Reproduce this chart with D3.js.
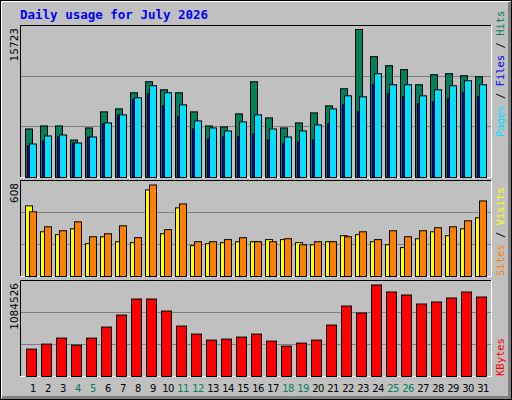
<!DOCTYPE html>
<html><head><meta charset="utf-8">
<script src="https://cdn.jsdelivr.net/npm/d3@7"></script>
<style>body{margin:0;background:#fff}</style>
</head><body><div id="chart"></div>
<script>
const days = d3.range(1, 32);
const weekend = [4, 5, 11, 12, 18, 19, 25, 26];
const hits = [5158,5478,5478,3984,5264,6972,7292,9000,10173,9319,9000,6972,5478,5371,6758,10173,6331,5264,5798,6865,7612,9426,15723,12841,11880,11454,9853,10920,11027,10813,10707];
const files = [3557,4411,4517,3664,4304,5798,6652,8466,9746,9000,7719,6011,5264,4944,5905,6652,5158,4304,4944,5584,7292,8679,8572,11027,9853,9853,8679,9319,9746,10280,9853];
const pages = [3344,3877,4304,3664,4304,5691,6652,8252,8893,7612,6438,5158,4091,4304,4304,4624,3984,3557,3770,3984,5691,7719,6972,9853,8893,8572,7825,8039,8359,9000,8572];
const visits = [430,330,304,363,264,284,337,258,608,311,482,231,231,245,258,231,231,251,211,231,231,264,297,245,304,264,304,324,330,370,502];
const sites = [469,297,278,317,218,264,231,225,575,284,456,205,218,225,231,231,245,245,225,211,231,271,278,231,211,192,251,297,271,317,390];
const kbytes = [324556,383926,455170,372052,455170,585784,728272,918256,918256,775768,597658,502666,431422,443296,467044,502666,419548,360178,395800,431422,609532,835138,752020,1084526,1001374,965752,858886,882634,930130,1001374,942004];

const W = 512, H = 400;
const svg = d3.select("#chart").append("svg").attr("width", W).attr("height", H);

// frame
svg.append("rect").attr("x", 0.5).attr("y", 0.5).attr("width", W - 1).attr("height", H - 1)
    .attr("fill", "#c0c0c0").attr("stroke", "#000");
svg.append("path").attr("d", `M1.5,${H-2}V1.5H${W-2}`).attr("stroke", "#fff").attr("fill", "none");
svg.append("path").attr("d", `M${W-2.5},2V${H-2.5}H2`).attr("stroke", "#808080").attr("fill", "none").attr("stroke-width", 3);

svg.append("text").attr("x", 20).attr("y", 19)
    .attr("font-family", "DejaVu Sans Mono").attr("font-weight", "bold").attr("font-size", 12.5)
    .attr("fill", "#0000ff").text("Daily usage for July 2026");

const X0 = 25, STEP = 15;
const xd = d3.scaleLinear().domain([1, 31]).range([X0, X0 + 30 * STEP]);

function panel(top, bottom) {
    const g = svg.append("g");
    g.append("path").attr("d", `M20.5,${bottom}V${top + 0.5}H491`).attr("stroke", "#000").attr("fill", "none");
    g.append("path").attr("d", `M491.5,${top}V${bottom + 0.5}H20`).attr("stroke", "#fff").attr("fill", "none");
    const h = bottom - top;
    [1, 2].forEach(k => {
        const yy = Math.round(bottom - h * k / 3) + 0.5;
        g.append("line").attr("x1", 21).attr("x2", 491).attr("y1", yy).attr("y2", yy).attr("stroke", "#808080");
    });
    return g;
}

function bars(g, data, y, off, w, fill) {
    g.selectAll(null).data(data).enter().append("rect")
        .attr("x", (d, i) => xd(days[i]) + off + 0.5)
        .attr("y", d => y(d) + 0.5)
        .attr("width", w)
        .attr("height", d => y(0) - y(d))
        .attr("fill", fill).attr("stroke", "#000");
}

function vlabel(g, xx, yy, parts, anchor, fam, size) {
    const t = g.append("text").attr("transform", `translate(${xx},${yy}) rotate(-90)`)
        .attr("font-family", fam || "DejaVu Sans Mono").attr("font-size", size || 10.5)
        .attr("text-anchor", anchor || "start");
    parts.forEach(p => t.append("tspan").attr("fill", p[1]).text(p[0]));
}

// top panel
const g1 = panel(25, 177);
const y1 = d3.scaleLinear().domain([0, 15723]).range([177, 29]);
bars(g1, hits, y1, 0, 7, "#00805c");
bars(g1, pages, y1, 2, 3, "#0000ff");
bars(g1, files, y1, 4, 7, "#00e0ff");
vlabel(svg, 18, 28, [["15723", "#000"]], "end", "DejaVu Sans", 10.5);
vlabel(svg, 504, 137, [["Pages", "#00e0ff"], [" / ", "#000"], ["Files", "#0000ff"], [" / ", "#000"], ["Hits", "#00805c"]]);

// middle panel
const g2 = panel(180, 276);
const y2 = d3.scaleLinear().domain([0, 608]).range([276, 184.5]);
bars(g2, sites, y2, 0, 7, "#ffff00");
bars(g2, visits, y2, 4, 7, "#ff8000");
vlabel(svg, 18, 183, [["608", "#000"]], "end", "DejaVu Sans", 10.5);
vlabel(svg, 504, 276, [["Sites", "#ff8000"], [" / ", "#000"], ["Visits", "#ffff00"]]);

// bottom panel
const g3 = panel(280, 376);
const y3 = d3.scaleLinear().domain([0, 1084526]).range([376, 284.5]);
bars(g3, kbytes, y3, 1, 10, "#ff0000");
vlabel(svg, 18, 283, [["1084526", "#000"]], "end", "DejaVu Sans", 10.5);
vlabel(svg, 504, 376, [["KBytes", "#ff0000"]]);

// day labels
svg.selectAll(".day").data(days).enter().append("text")
    .attr("x", d => xd(d) + 8).attr("y", 392)
    .attr("text-anchor", "middle")
    .attr("font-family", "DejaVu Sans").attr("font-size", 10)
    .attr("letter-spacing", -0.5)
    .attr("fill", d => weekend.includes(d) ? "#00805c" : "#000")
    .text(d => d);
</script>
</body></html>
